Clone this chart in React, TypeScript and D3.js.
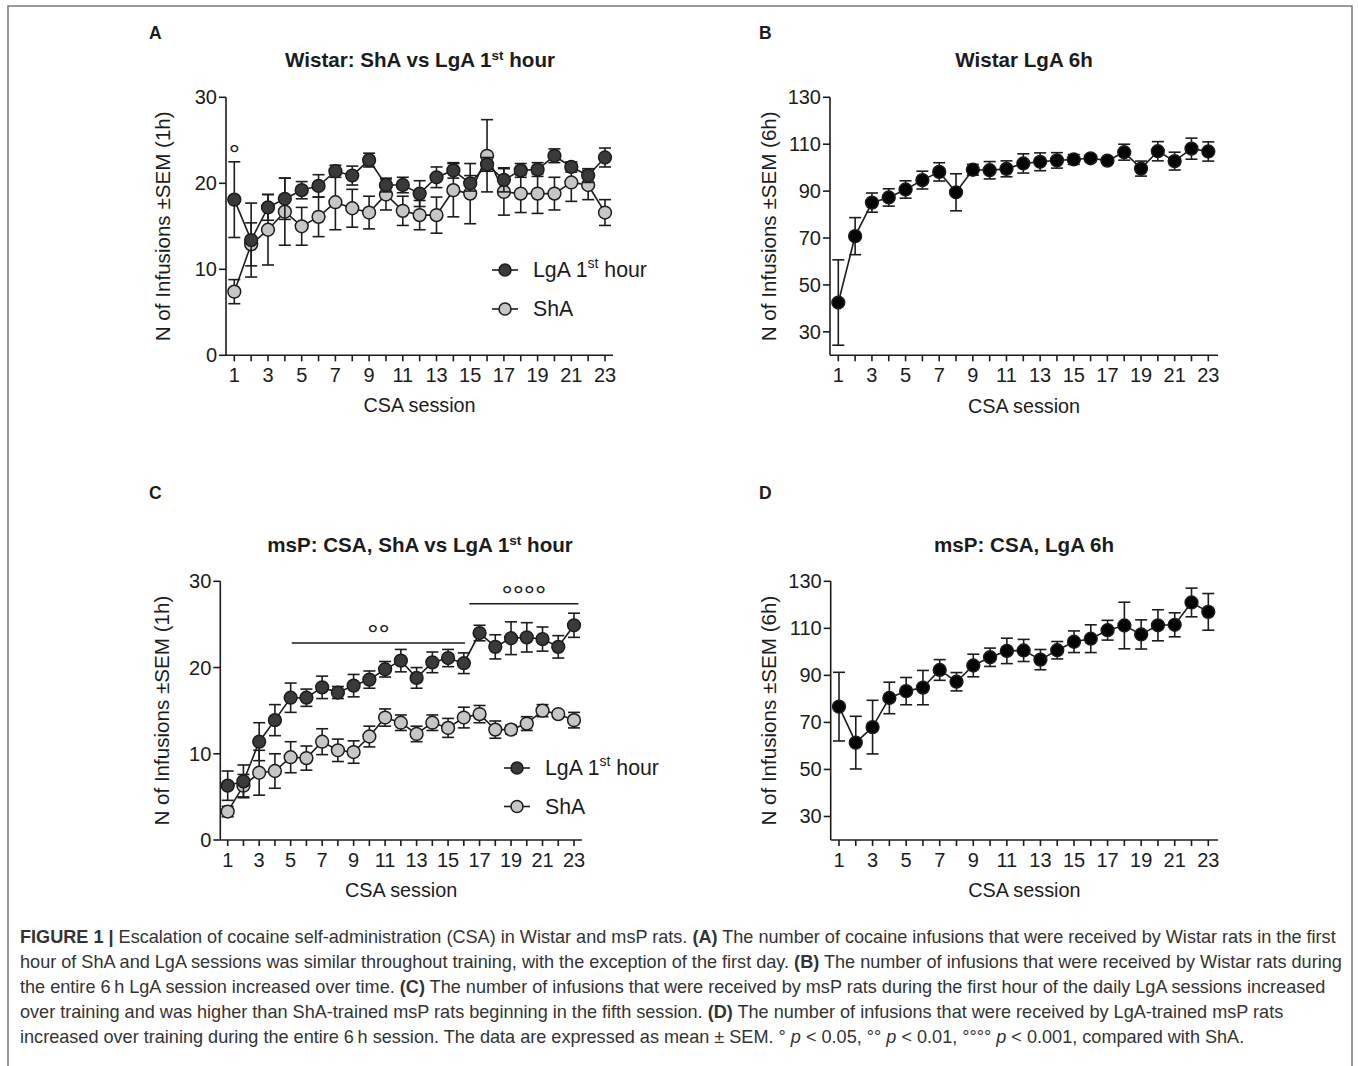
import React from 'react';
import * as d3 from 'd3';

// ---------- DATA ----------
const sessions = [1, 2, 3, 4, 5, 6, 7, 8, 9, 10, 11, 12, 13, 14, 15, 16, 17, 18, 19, 20, 21, 22, 23];
const sessionTickLabels = [1, 3, 5, 7, 9, 11, 13, 15, 17, 19, 21, 23];

// Panel A: Wistar, first hour
const wistarLgA1h = [18.1, 13.4, 17.2, 18.2, 19.2, 19.7, 21.4, 20.9, 22.7, 19.8, 19.8, 18.8, 20.7, 21.5, 20.0, 22.2, 20.4, 21.5, 21.6, 23.2, 21.9, 20.9, 23.0];
const wistarLgA1hSem = [4.4, 4.3, 1.5, 2.4, 1.0, 1.3, 0.7, 1.1, 0.8, 0.8, 0.9, 1.5, 1.2, 0.9, 0.9, 0.8, 1.4, 0.8, 0.8, 0.8, 0.6, 0.8, 1.1];
const wistarShA = [7.4, 12.9, 14.6, 16.7, 15.0, 16.1, 17.8, 17.1, 16.6, 18.7, 16.8, 16.3, 16.3, 19.2, 18.8, 23.2, 19.0, 18.8, 18.8, 18.8, 20.1, 19.8, 16.6];
const wistarShASem = [1.4, 2.5, 4.1, 3.9, 2.2, 2.3, 3.2, 2.2, 1.9, 1.8, 1.7, 1.7, 2.1, 3.1, 3.5, 4.2, 2.7, 2.2, 2.3, 1.9, 2.2, 1.7, 1.5];

// Panel B: Wistar, LgA 6h
const wistarLgA6h = [42.5, 70.8, 85.1, 87.3, 90.7, 94.7, 98.2, 89.5, 99.1, 98.9, 99.5, 101.8, 102.5, 103.1, 103.5, 104.0, 103.0, 106.6, 99.6, 107.0, 102.8, 108.1, 106.9];
const wistarLgA6hSem = [18.2, 7.9, 4.1, 3.7, 3.7, 3.8, 3.9, 7.9, 2.3, 3.7, 3.4, 4.1, 3.8, 3.3, 2.1, 1.4, 1.1, 3.4, 3.2, 4.1, 3.8, 4.5, 4.1];

// Panel C: msP, first hour
const mspLgA1h = [6.3, 6.8, 11.4, 13.9, 16.5, 16.5, 17.7, 17.1, 17.9, 18.6, 19.8, 20.8, 18.8, 20.6, 21.1, 20.5, 24.0, 22.4, 23.4, 23.5, 23.3, 22.4, 24.9];
const mspLgA1hSem = [1.7, 1.9, 2.2, 1.8, 1.7, 1.0, 1.3, 0.7, 1.3, 1.0, 0.9, 1.3, 1.2, 1.2, 1.0, 1.2, 0.9, 1.4, 1.9, 1.7, 1.4, 1.3, 1.4];
const mspShA = [3.3, 6.3, 7.8, 8.0, 9.6, 9.5, 11.4, 10.4, 10.2, 12.0, 14.2, 13.6, 12.3, 13.6, 13.0, 14.2, 14.6, 12.8, 12.8, 13.5, 15.0, 14.6, 13.9];
const mspShASem = [0.6, 1.3, 2.6, 2.0, 1.8, 1.4, 1.5, 1.3, 1.3, 1.2, 1.0, 0.9, 0.9, 0.9, 1.1, 1.2, 1.0, 1.0, 0.5, 0.8, 0.7, 0.3, 0.9];

// Panel D: msP, LgA 6h
const mspLgA6h = [76.7, 61.4, 68.0, 80.4, 83.3, 84.8, 92.3, 87.3, 94.2, 97.7, 100.4, 100.6, 96.7, 100.7, 104.3, 105.6, 109.2, 111.2, 107.4, 111.3, 111.5, 121.0, 117.0];
const mspLgA6hSem = [14.6, 11.2, 11.4, 6.7, 5.8, 7.3, 4.4, 3.9, 4.8, 3.9, 5.4, 4.7, 4.3, 3.7, 4.6, 5.9, 4.2, 9.9, 6.2, 6.6, 5.1, 6.1, 7.8];

const ticks1h = [0, 10, 20, 30];
const ticks6h = [30, 50, 70, 90, 110, 130];

// significance marks: [session from, session to, y value, symbol]
const sigA = [{ from: 1, to: 1, y: 24.0, mark: '°' }];
const sigC = [
  { from: 5.07, to: 16.08, y: 22.85, mark: '°°' },
  { from: 16.35, to: 23.28, y: 27.4, mark: '°°°°' },
];

// ---------- STYLE ----------
const FONT = '"Liberation Sans", Arial, Helvetica, sans-serif';
const INK = '#1c1c1c';
const DARK = '#3a3a3a';
const LIGHT = '#c6c6c6';

type Series = { values: number[]; sem: number[]; fill: string };

type PanelCfg = {
  axisX: number;
  axisRight: number;
  xFirst: number;
  xLast: number;
  yTop: number;
  yBottom: number;
  yDomain: [number, number];
  yTicks: number[];
  yLabel: string;
  yLabelX: number;
  xLabelY: number;
  series: Series[];
  sig?: { from: number; to: number; y: number; mark: string }[];
  legend?: { x: number; y: number; gap: number };
};

function Panel({ cfg }: { cfg: PanelCfg }) {
  const x = d3.scaleLinear().domain([1, 23]).range([cfg.xFirst, cfg.xLast]);
  const y = d3.scaleLinear().domain(cfg.yDomain).range([cfg.yBottom, cfg.yTop]);
  const line = d3
    .line<number>()
    .x((_, i) => x(sessions[i]))
    .y((d) => y(d));
  const cap = 6;
  const xMid = (cfg.axisX + cfg.axisRight) / 2;
  const yMid = (cfg.yTop + cfg.yBottom) / 2;

  return (
    <g fontFamily={FONT} fill={INK}>
      {/* axes */}
      <line x1={cfg.axisX} x2={cfg.axisX} y1={cfg.yTop} y2={cfg.yBottom} stroke={INK} strokeWidth={1.6} />
      <line x1={cfg.axisX} x2={cfg.axisRight} y1={cfg.yBottom} y2={cfg.yBottom} stroke={INK} strokeWidth={1.6} />
      {cfg.yTicks.map((t) => (
        <g key={'yt' + t}>
          <line x1={cfg.axisX - 7} x2={cfg.axisX} y1={y(t)} y2={y(t)} stroke={INK} strokeWidth={1.6} />
          <text x={cfg.axisX - 9} y={y(t)} textAnchor="end" dominantBaseline="central" fontSize={20}>
            {t}
          </text>
        </g>
      ))}
      {sessions.map((s) => (
        <line key={'xt' + s} x1={x(s)} x2={x(s)} y1={cfg.yBottom} y2={cfg.yBottom + 6} stroke={INK} strokeWidth={1.6} />
      ))}
      {sessionTickLabels.map((s) => (
        <text key={'xl' + s} x={x(s)} y={cfg.yBottom + 27} textAnchor="middle" fontSize={20}>
          {s}
        </text>
      ))}
      <text
        transform={`translate(${cfg.yLabelX},${yMid}) rotate(-90)`}
        textAnchor="middle"
        dominantBaseline="central"
        fontSize={20.6}
      >
        {cfg.yLabel}
      </text>
      <text x={xMid} y={cfg.xLabelY} textAnchor="middle" fontSize={19.8}>
        CSA session
      </text>

      {/* series */}
      {cfg.series.map((ser, si) => (
        <g key={'s' + si}>
          {ser.values.map((v, i) => {
            const cx = x(sessions[i]);
            const yt = y(v + ser.sem[i]);
            const yb = y(v - ser.sem[i]);
            return (
              <g key={'e' + i} stroke={INK} strokeWidth={1.6}>
                <line x1={cx} x2={cx} y1={yt} y2={yb} />
                <line x1={cx - cap} x2={cx + cap} y1={yt} y2={yt} />
                <line x1={cx - cap} x2={cx + cap} y1={yb} y2={yb} />
              </g>
            );
          })}
          <path d={line(ser.values) || ''} fill="none" stroke={INK} strokeWidth={1.6} />
          {ser.values.map((v, i) => (
            <circle key={'c' + i} cx={x(sessions[i])} cy={y(v)} r={6.4} fill={ser.fill} stroke={INK} strokeWidth={1.5} />
          ))}
        </g>
      ))}

      {/* significance */}
      {(cfg.sig || []).map((sg, k) => (
        <g key={'sig' + k}>
          {sg.to > sg.from && (
            <line x1={x(sg.from)} x2={x(sg.to)} y1={y(sg.y)} y2={y(sg.y)} stroke={INK} strokeWidth={1.5} />
          )}
          <text
            x={(x(sg.from) + x(sg.to)) / 2}
            y={sg.to > sg.from ? y(sg.y) + 1 : y(sg.y) + 15}
            textAnchor="middle"
            fontSize={28}
            fill={INK}
          >
            {sg.mark}
          </text>
        </g>
      ))}

      {/* legend */}
      {cfg.legend && (
        <g>
          {[
            { lab: 'LgA', fill: DARK },
            { lab: 'ShA', fill: LIGHT },
          ].map((it, k) => {
            const ly = cfg.legend!.y + k * cfg.legend!.gap;
            const lx = cfg.legend!.x;
            return (
              <g key={'lg' + k}>
                <line x1={lx} x2={lx + 26} y1={ly} y2={ly} stroke={INK} strokeWidth={1.6} />
                <circle cx={lx + 13} cy={ly} r={6} fill={it.fill} stroke={INK} strokeWidth={1.5} />
                <text x={lx + 41} y={ly} dominantBaseline="central" fontSize={21.3}>
                  {k === 0 ? (
                    <>
                      <tspan>LgA 1</tspan>
                      <tspan fontSize={14} dy={-7}>st</tspan>
                      <tspan dy={7}> hour</tspan>
                    </>
                  ) : (
                    'ShA'
                  )}
                </text>
              </g>
            );
          })}
        </g>
      )}
    </g>
  );
}

const panelA: PanelCfg = {
  axisX: 226,
  axisRight: 613,
  xFirst: 234.3,
  xLast: 605,
  yTop: 97.3,
  yBottom: 355.3,
  yDomain: [0, 30],
  yTicks: ticks1h,
  yLabel: 'N of Infusions ±SEM (1h)',
  yLabelX: 162,
  xLabelY: 412,
  series: [
    { values: wistarShA, sem: wistarShASem, fill: LIGHT },
    { values: wistarLgA1h, sem: wistarLgA1hSem, fill: DARK },
  ],
  sig: sigA,
  legend: { x: 492, y: 270, gap: 39 },
};

const panelB: PanelCfg = {
  axisX: 830,
  axisRight: 1218,
  xFirst: 838.3,
  xLast: 1208.3,
  yTop: 97.3,
  yBottom: 355.3,
  yDomain: [20, 130],
  yTicks: ticks6h,
  yLabel: 'N of Infusions ±SEM (6h)',
  yLabelX: 768,
  xLabelY: 413,
  series: [{ values: wistarLgA6h, sem: wistarLgA6hSem, fill: '#050505' }],
};

const panelC: PanelCfg = {
  axisX: 220.3,
  axisRight: 582,
  xFirst: 227.7,
  xLast: 574,
  yTop: 581.3,
  yBottom: 840,
  yDomain: [0, 30],
  yTicks: ticks1h,
  yLabel: 'N of Infusions ±SEM (1h)',
  yLabelX: 161,
  xLabelY: 897,
  series: [
    { values: mspShA, sem: mspShASem, fill: LIGHT },
    { values: mspLgA1h, sem: mspLgA1hSem, fill: DARK },
  ],
  sig: sigC,
  legend: { x: 504, y: 768, gap: 38.5 },
};

const panelD: PanelCfg = {
  axisX: 830.7,
  axisRight: 1218,
  xFirst: 839,
  xLast: 1208.3,
  yTop: 581.3,
  yBottom: 840,
  yDomain: [20, 130],
  yTicks: ticks6h,
  yLabel: 'N of Infusions ±SEM (6h)',
  yLabelX: 768,
  xLabelY: 897,
  series: [{ values: mspLgA6h, sem: mspLgA6hSem, fill: '#050505' }],
};

function Title({ x, y, parts }: { x: number; y: number; parts: [string, string?, string?] }) {
  return (
    <text x={x} y={y} textAnchor="middle" fontSize={20.6} fontWeight="bold" fontFamily={FONT} fill={INK}>
      <tspan>{parts[0]}</tspan>
      {parts[1] && (
        <>
          <tspan fontSize={13.5} dy={-7}>{parts[1]}</tspan>
          <tspan dy={7}>{parts[2]}</tspan>
        </>
      )}
    </text>
  );
}

const CAP = '#333';
const B = (s: string) => <tspan fontWeight="bold">{s}</tspan>;
const P = () => <tspan fontStyle="italic">p</tspan>;

export default function App() {
  const capX = 20;
  const capY0 = 943;
  const capDy = 25;
  const capSize = 18.1;
  return (
    <svg
      width={1358}
      height={1066}
      viewBox="0 0 1358 1066"
      style={{ position: 'absolute', left: 0, top: 0, background: '#fff' }}
    >
      <rect x={0} y={0} width={1358} height={1066} fill="#fff" />
      <rect x={8} y={6} width={1344} height={1080} fill="none" stroke="#7a7a7a" strokeWidth={1.5} />

      {/* panel letters */}
      {[
        ['A', 149, 39],
        ['B', 759, 39],
        ['C', 149, 499],
        ['D', 759, 499],
      ].map(([t, px, py]) => (
        <text key={t as string} x={px as number} y={py as number} fontSize={17.5} fontWeight="bold" fontFamily={FONT} fill={INK}>
          {t}
        </text>
      ))}

      <Title x={420} y={67} parts={['Wistar: ShA vs LgA 1', 'st', ' hour']} />
      <Title x={1024} y={67} parts={['Wistar LgA 6h']} />
      <Title x={420} y={552} parts={['msP: CSA, ShA vs LgA 1', 'st', ' hour']} />
      <Title x={1024} y={552} parts={['msP: CSA, LgA 6h']} />

      <Panel cfg={panelA} />
      <Panel cfg={panelB} />
      <Panel cfg={panelC} />
      <Panel cfg={panelD} />

      {/* caption */}
      <g fontFamily={FONT} fontSize={capSize} fill={CAP}>
        <text x={capX} y={capY0}>
          {B('FIGURE 1 | ')}
          <tspan>Escalation of cocaine self-administration (CSA) in Wistar and msP rats. </tspan>
          {B('(A)')}
          <tspan> The number of cocaine infusions that were received by Wistar rats in the first</tspan>
        </text>
        <text x={capX} y={capY0 + capDy}>
          <tspan>hour of ShA and LgA sessions was similar throughout training, with the exception of the first day. </tspan>
          {B('(B)')}
          <tspan> The number of infusions that were received by Wistar rats during</tspan>
        </text>
        <text x={capX} y={capY0 + 2 * capDy}>
          <tspan>the entire 6{'\u2009'}h LgA session increased over time. </tspan>
          {B('(C)')}
          <tspan> The number of infusions that were received by msP rats during the first hour of the daily LgA sessions increased</tspan>
        </text>
        <text x={capX} y={capY0 + 3 * capDy}>
          <tspan>over training and was higher than ShA-trained msP rats beginning in the fifth session. </tspan>
          {B('(D)')}
          <tspan> The number of infusions that were received by LgA-trained msP rats</tspan>
        </text>
        <text x={capX} y={capY0 + 4 * capDy}>
          <tspan>increased over training during the entire 6{'\u2009'}h session. The data are expressed as mean ± SEM. ° </tspan>
          <P />
          <tspan> {'<'} 0.05, °° </tspan>
          <P />
          <tspan> {'<'} 0.01, °°°° </tspan>
          <P />
          <tspan> {'<'} 0.001, compared with ShA.</tspan>
        </text>
      </g>
    </svg>
  );
}
